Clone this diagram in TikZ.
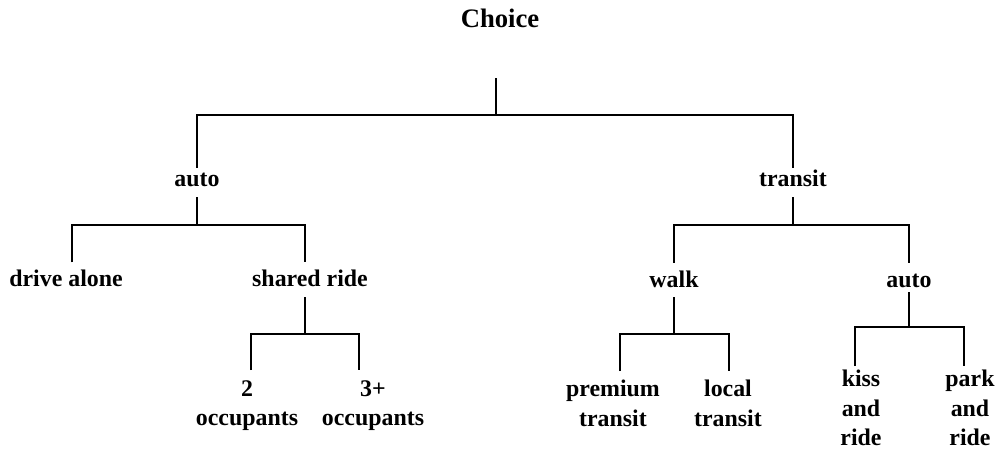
\documentclass[tikz,border=0pt]{standalone}
\usepackage{fontspec}
\setmainfont{Liberation Serif}
\begin{document}
\begin{tikzpicture}[x=0.75pt,y=-0.75pt,
  lab/.style={inner sep=0pt, align=center, font=\bfseries\fontsize{17.9}{22.1}\selectfont},
  one/.style={lab, text height=12.5pt, text depth=0pt, anchor=base},
  many/.style={lab, anchor=north},
  link/.style={line width=1.5pt, line join=miter}]
\useasboundingbox (0,0) rectangle (996,450);
% root
\node[one, font=\bfseries\fontsize{20}{24}\selectfont] (choice) at (500,27) {Choice};
\coordinate (top) at (496,78);
\coordinate (j0) at (496,115);
\node[one] (auto) at (197,186) {auto};
\node[one] (transit) at (793,186) {transit};
\draw[link] (top) -- (j0);
\draw[link, shorten <=1pt, shorten >=1pt] (auto.north) |- (j0) -| (transit.north);
% auto subtree
\node[one] (drive) at (66,286) {drive alone};
\node[one] (shared) at (310,286) {shared ride};
\coordinate (j1) at (197,225);
\draw[link, shorten <=8.25pt] (auto.south) -- (j1);
\draw[link, shorten <=5.1pt, shorten >=5.1pt] ([xshift=4.5pt]drive.north) |- (j1) -| ([xshift=-3.75pt]shared.north);
\coordinate (j2) at (305,334);
\draw[link, shorten <=8.25pt] ([xshift=-3.75pt]shared.south) -- (j2);
\node[many] (two) at (247,380) {2\\occupants};
\node[many] (three) at (373,380) {3+\\occupants};
\draw[link, shorten <=7.5pt, shorten >=7.5pt] ([xshift=3pt]two.north) |- (j2) -| ([xshift=-10.5pt]three.north);
% transit subtree
\node[one] (walk) at (674,287) {walk};
\node[one] (auto2) at (909,287) {auto};
\coordinate (j3) at (793,225);
\draw[link, shorten <=8.25pt] (transit.south) -- (j3);
\draw[link, shorten <=5.5pt, shorten >=5.5pt] (walk.north) |- (j3) -| (auto2.north);
\coordinate (j4) at (674,334);
\draw[link, shorten <=7.5pt] (walk.south) -- (j4);
\node[many] (prem) at (613,380) {premium\\transit};
\node[many] (local) at (728,380) {local\\transit};
\draw[link, shorten <=6.75pt, shorten >=6.75pt] ([xshift=5.25pt]prem.north) |- (j4) -| ([xshift=0.75pt]local.north);
\coordinate (j5) at (909,327);
\draw[link, shorten <=3.75pt] (auto2.south) -- (j5);
\node[many] (kiss) at (861,370) {kiss\\and\\ride};
\node[many] (park) at (970,370) {park\\and\\ride};
\draw[link, shorten <=3pt, shorten >=3pt] ([xshift=-4.5pt]kiss.north) |- (j5) -| ([xshift=-4.5pt]park.north);
\end{tikzpicture}
\end{document}
